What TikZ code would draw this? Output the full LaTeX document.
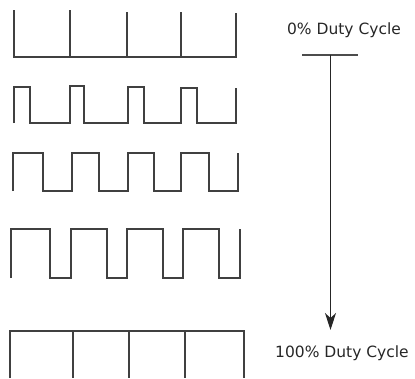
\documentclass[tikz,border=0pt]{standalone}
\usepackage{fontspec}
\setmainfont{DejaVu Sans}
\usetikzlibrary{arrows.meta}
\tikzset{
  wave/.style={draw=black!75, line width=1.3pt, line join=miter},
  label/.style={font=\fontsize{15.5}{18}\selectfont, text=black!85, inner sep=0pt},
  scalebar/.style={draw=black!70, line width=2pt},
  duty/.style={draw=black!85, line width=1.2pt, -{Stealth[length=17pt,width=11pt,inset=5pt]}}
}
\begin{document}
\begin{tikzpicture}[x=1pt,y=-1pt]
\useasboundingbox (0,0) rectangle (415,378);
% 0% duty cycle
\draw[wave] (14,10) -- (14,57) -- (236,57) -- (236,13);
\draw[wave] (70,10) -- (70,57);
\draw[wave] (127,12) -- (127,57);
\draw[wave] (181,12) -- (181,57);
% ~25% duty cycle
\draw[wave] (14,123) -- (14,87) -- (30,87) -- (30,123) -- (70,123) -- (70,86) -- (84,86) -- (84,123)
  -- (128,123) -- (128,87) -- (144,87) -- (144,123) -- (181,123) -- (181,88) -- (197,88) -- (197,123)
  -- (236,123) -- (236,88);
% 50% duty cycle
\draw[wave] (13,191) -- (13,153) -- (43,153) -- (43,191) -- (72,191) -- (72,153) -- (99,153) -- (99,191)
  -- (128,191) -- (128,153) -- (154,153) -- (154,191) -- (181,191) -- (181,153) -- (209,153) -- (209,191)
  -- (238,191) -- (238,153);
% ~75% duty cycle
\draw[wave] (11,278) -- (11,229) -- (50,229) -- (50,278) -- (71,278) -- (71,229) -- (107,229) -- (107,278)
  -- (127,278) -- (127,229) -- (163,229) -- (163,278) -- (183,278) -- (183,229) -- (219,229) -- (219,278)
  -- (240,278) -- (240,229);
% 100% duty cycle
\draw[wave] (10,378) -- (10,331) -- (244,331) -- (244,378);
\draw[wave] (73,331) -- (73,378);
\draw[wave] (129,331) -- (129,378);
\draw[wave] (185,331) -- (185,378);
% labels and arrow
\node[label] (top) at (344,30) {0\% Duty Cycle};
\node[label] (bottom) at (342,353) {100\% Duty Cycle};
\coordinate (barL) at (302,54.5);
\coordinate (barR) at (358,54.5);
\coordinate (start) at (330.5,54.5);
\coordinate (tip) at (330.5,330);
\draw[scalebar] (barL) -- (barR);
\draw[duty] (start) -- (tip);
\end{tikzpicture}
\end{document}
